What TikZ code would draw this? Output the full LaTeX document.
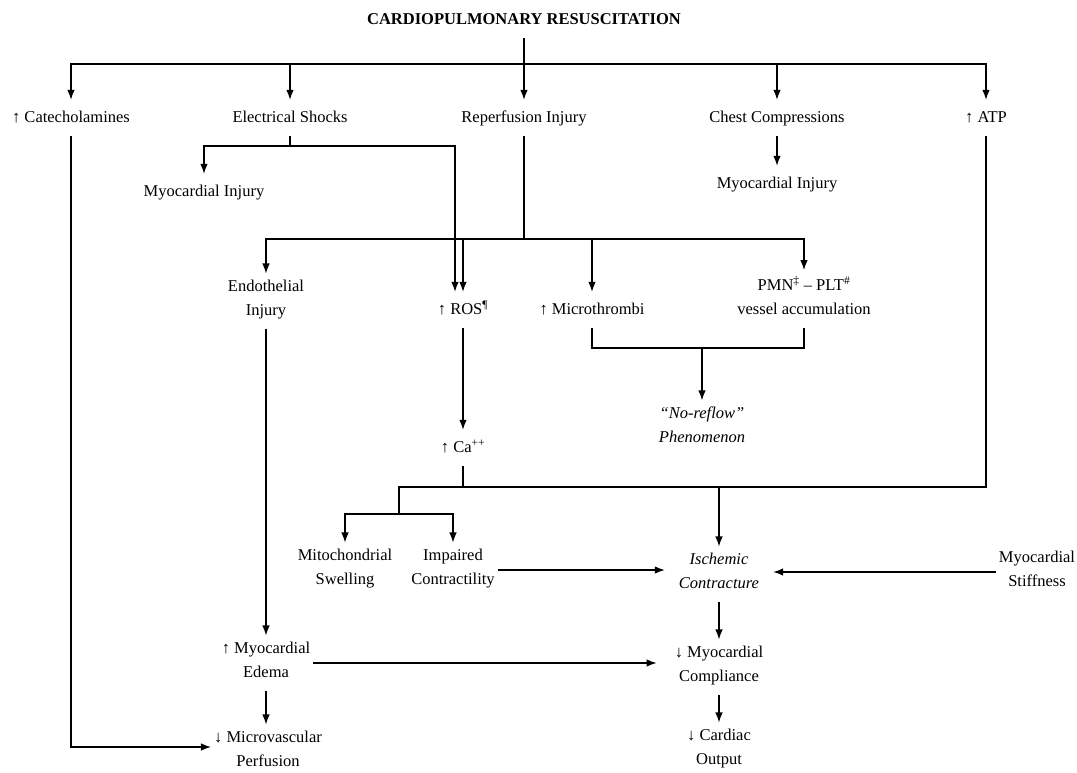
\documentclass[tikz,border=0pt]{standalone}
\usepackage{fontspec}
\setmainfont{Liberation Serif}
\usetikzlibrary{arrows.meta}
\begin{document}
\begin{tikzpicture}[x=1pt, y=-1pt, font=\fontsize{16.5}{24}\selectfont,
    >={Latex[length=10pt,width=7.5pt]},
    lbl/.style={align=center, inner xsep=3pt, inner ysep=6pt,
      execute at begin node=\strut, execute at end node=\strut},
    ln/.style={line width=1.2pt},
    arr/.style={->, line width=1.2pt}]
  \useasboundingbox (0,0) rectangle (1077,772);
  \node[lbl, font=\fontsize{16.5}{24}\selectfont\bfseries] (title) at (524,20) {CARDIOPULMONARY RESUSCITATION};
  \node[lbl] (cat) at (71,118) {↑ Catecholamines};
  \node[lbl] (elec) at (290,118) {Electrical Shocks};
  \node[lbl] (rep) at (524,118) {Reperfusion Injury};
  \node[lbl] (chest) at (777,118) {Chest Compressions};
  \node[lbl] (atp) at (986,118) {↑ ATP};
  \node[lbl] (mi1) at (204,192) {Myocardial Injury};
  \node[lbl] (mi2) at (777,184) {Myocardial Injury};
  \node[lbl] (endo) at (266,301) {Endothelial\\Injury};
  \node[lbl] (ros) at (463,310) {↑ ROS\textsuperscript{¶}};
  \node[lbl] (micro) at (592,310) {↑ Microthrombi};
  \node[lbl] (pmn) at (804,299) {PMN\textsuperscript{‡} -- PLT\textsuperscript{\#}\\vessel accumulation};
  \node[lbl] (noref) at (702,428) {\textit{``No-reflow''}\\\textit{Phenomenon}};
  \node[lbl] (ca) at (463,448) {↑ Ca\textsuperscript{++}};
  \node[lbl] (mito) at (345,570) {Mitochondrial\\Swelling};
  \node[lbl] (imp) at (453,570) {Impaired\\Contractility};
  \node[lbl, inner xsep=14pt] (isch) at (719,574) {\textit{Ischemic}\\\textit{Contracture}};
  \node[lbl] (stiff) at (1037,572) {Myocardial\\Stiffness};
  \node[lbl] (edema) at (266,663) {↑ Myocardial\\Edema};
  \node[lbl, inner xsep=18pt] (comp) at (719,667) {↓ Myocardial\\Compliance};
  \node[lbl] (mvp) at (268,752) {↓ Microvascular\\Perfusion};
  \node[lbl] (out) at (719,750) {↓ Cardiac\\Output};
  \coordinate (tJ) at (524,64);
  \coordinate (eJ) at (290,146);
  \coordinate (rJ) at (524,239);
  \coordinate (nJ) at (702,348);
  \coordinate (cJ) at (463,487);
  \coordinate (mJ) at (399,487);
  \coordinate (mK) at (399,514);
  \coordinate (iJ) at (719,487);
  \draw[arr] (title) -- (rep);
  \draw[arr] (tJ) -| (cat);
  \draw[arr] (tJ) -| (elec);
  \draw[arr] (tJ) -| (chest);
  \draw[arr] (tJ) -| (atp);
  \draw[arr] (chest) -- (mi2);
  \draw[ln] (elec) -- (eJ);
  \draw[arr] (eJ) -| (mi1);
  \draw[arr] (eJ) -| ([xshift=-8pt]ros.north);
  \draw[ln] (rep) -- (rJ);
  \draw[arr] (rJ) -| (endo);
  \draw[arr] (rJ) -| (ros);
  \draw[arr] (rJ) -| (micro);
  \draw[arr] (rJ) -| (pmn);
  \draw[ln] (micro) |- (nJ);
  \draw[ln] (pmn) |- (nJ);
  \draw[arr] (nJ) -- (noref);
  \draw[arr] (ros) -- (ca);
  \draw[ln] (ca) -- (cJ);
  \draw[ln] (atp) |- (cJ);
  \draw[ln] (cJ) -- (mJ) -- (mK);
  \draw[arr] (mK) -| (mito);
  \draw[arr] (mK) -| (imp);
  \draw[arr] (iJ) -- (isch);
  \draw[arr] (imp.east) -- (imp.east -| isch.west);
  \draw[arr] (stiff.west) -- (stiff.west -| isch.east);
  \draw[arr] (endo) -- (edema);
  \draw[arr] (edema.east) -- (edema.east -| comp.west);
  \draw[arr] (edema) -- (edema |- mvp.north);
  \draw[arr] (cat.south) |- ([yshift=5pt]mvp.west);
  \draw[arr] (isch) -- (comp);
  \draw[arr] (comp) -- (out);
\end{tikzpicture}
\end{document}
